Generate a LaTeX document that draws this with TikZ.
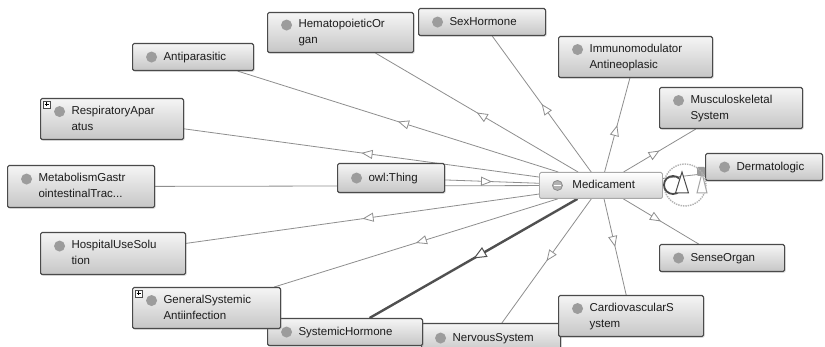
\documentclass[tikz,border=0pt]{standalone}
\usepackage{fontspec}
\setmainfont{Liberation Sans}
\usetikzlibrary{arrows.meta,decorations.markings,shadows}
\pgfdeclarelayer{back}
\pgfdeclarelayer{edges}
\pgfsetlayers{back,edges,main}
\definecolor{edgec}{HTML}{8E8E8E}
\definecolor{thickc}{HTML}{505050}
\definecolor{boxc}{HTML}{4A4A4A}
\definecolor{topc}{HTML}{F5F5F5}
\definecolor{botc}{HTML}{C6C6C6}
\definecolor{bulc}{HTML}{9C9C9C}
\definecolor{txtc}{HTML}{1C1C1C}
\definecolor{medb}{HTML}{A8A8A8}
\newcommand\lab[2]{\makebox[#1][l]{\hspace*{27pt}\begin{tabular}[c]{@{}l@{}}#2\end{tabular}}}
\tikzset{
  cls/.style={draw=boxc, line width=1.1pt, rounded corners=1.5pt,
    top color=topc, bottom color=botc, inner xsep=4pt, inner ysep=0pt,
    text=txtc, font=\fontsize{11.5}{16}\selectfont, anchor=north west,
    drop shadow={shadow xshift=1pt,shadow yshift=-1.2pt,opacity=.3}},
  medbox/.style={draw=medb, line width=0.9pt, rounded corners=1.5pt,
    top color=white, bottom color=black!17, inner xsep=4pt, inner ysep=0pt,
    text=txtc, font=\fontsize{11.5}{16}\selectfont, anchor=north west},
  one/.style={path picture={\fill[bulc] ([xshift=19pt]path picture bounding box.west) circle (5.5pt);}},
  two/.style={path picture={\fill[bulc] ([xshift=19pt,yshift=7.5pt]path picture bounding box.west) circle (5.5pt);}},
  medbul/.style={path picture={
      \draw[black!45,fill=black!30,line width=0.8pt] ([xshift=18pt]path picture bounding box.west) circle (5pt);
      \draw[white,line width=0.9pt] ([xshift=14.5pt]path picture bounding box.west) -- ([xshift=21.5pt]path picture bounding box.west);}},
  edge/.style={color=edgec, line width=0.8pt, postaction={decorate},
    decoration={markings, mark=at position .5 with {\arrow{Triangle[length=11pt,width=9pt,fill=white,line width=0.8pt]}}}},
  thickedge/.style={color=thickc, line width=2.4pt, postaction={decorate},
    decoration={markings, mark=at position .5 with {\arrow{Triangle[length=13pt,width=11pt,fill=white,line width=1pt]}}}},
  plainedge/.style={color=edgec, line width=0.8pt},
}
\begin{document}
\begin{tikzpicture}[x=1pt,y=-1pt]
\useasboundingbox (0,0) rectangle (825,347);
\begin{pgfonlayer}{back}
\fill[white] (0,0) rectangle (825,347);
\end{pgfonlayer}

% nodes
\node[cls,two,minimum width=146pt,minimum height=40pt] (hema) at (267,12) {\lab{138pt}{HematopoieticOr\\gan}};
\node[cls,one,minimum width=127pt,minimum height=27pt] (sex) at (418,8) {\lab{119pt}{SexHormone}};
\node[cls,one,minimum width=121pt,minimum height=27pt] (anti) at (132,43) {\lab{113pt}{Antiparasitic}};
\node[cls,two,minimum width=154pt,minimum height=41pt] (immuno) at (558,36) {\lab{146pt}{Immunomodulator\\Antineoplasic}};
\node[cls,two,minimum width=143pt,minimum height=41pt] (musc) at (659,87) {\lab{135pt}{Musculoskeletal\\System}};
\node[cls,two,minimum width=143pt,minimum height=41pt] (resp) at (40,98) {\lab{135pt}{RespiratoryApar\\atus}};
\node[cls,one,minimum width=117pt,minimum height=27pt] (derm) at (705,153) {\lab{109pt}{Dermatologic}};
\node[cls,two,minimum width=147pt,minimum height=42pt] (metab) at (7,165) {\lab{139pt}{MetabolismGastr\\ointestinalTrac...}};
\node[cls,one,minimum width=107pt,minimum height=29pt] (thing) at (337,163) {\lab{99pt}{owl:Thing}};
\node[medbox,medbul,minimum width=123pt,minimum height=26pt] (med) at (539,172) {\lab{115pt}{\hspace*{2pt}Medicament}};
\node[cls,two,minimum width=145pt,minimum height=42pt] (hosp) at (40,232) {\lab{137pt}{HospitalUseSolu\\tion}};
\node[cls,one,minimum width=125pt,minimum height=27pt] (sense) at (659,244) {\lab{117pt}{SenseOrgan}};
\node[cls,one,minimum width=139pt,minimum height=29pt] (nerv) at (421,323) {\lab{131pt}{NervousSystem}};
\node[cls,one,minimum width=155pt,minimum height=27pt] (syshorm) at (267,318) {\lab{147pt}{SystemicHormone}};
\node[cls,two,minimum width=148pt,minimum height=41pt] (gen) at (132,287) {\lab{140pt}{GeneralSystemic\\Antiinfection}};
\node[cls,two,minimum width=145pt,minimum height=41pt] (cardio) at (558,295) {\lab{137pt}{CardiovascularS\\ystem}};

% expand markers
\foreach \px/\py in {43/101, 135/290} {
  \draw[boxc,fill=white,line width=0.6pt] (\px,\py) rectangle ++(7,7);
  \draw[black,line width=0.7pt] (\px+1.5,\py+3.5) -- ++(4,0) (\px+3.5,\py+1.5) -- ++(0,4);
}
% small handle at Dermatologic
\fill[bulc,rounded corners=1pt] (697,167) rectangle (705,176);

% edges
\begin{pgfonlayer}{edges}
\draw[edge] (thing) -- (med);
\draw[edge] (med) -- (hema);
\draw[edge] (med) -- (sex);
\draw[edge] (med) -- (anti);
\draw[edge] (med) -- (immuno);
\draw[edge] (med) -- (musc);
\draw[edge] (med) -- (resp);
\draw[edge] (med) -- (metab);
\draw[edge] (med) -- (hosp);
\draw[edge] (med) -- (gen);
\draw[thickedge] (med) -- (syshorm);
\draw[edge] (med) -- (nerv);
\draw[edge] (med) -- (cardio);
\draw[edge] (med) -- (sense);
\draw[plainedge] (med) -- (derm);
\end{pgfonlayer}

% loop decoration between Medicament and Dermatologic
\draw[black!30,densely dotted,line width=1.4pt] (685,185) circle (21);
\draw[boxc,line width=1.8pt] (673,185) ++(45:9) arc[start angle=45,end angle=315,radius=9];
\draw[boxc,line width=1pt,fill=white] (682,172) -- (688.5,193) -- (675.5,193) -- cycle;
\draw[black!35,line width=1pt,fill=white] (702,173) -- (707,193) -- (697,193) -- cycle;
\end{tikzpicture}
\end{document}
